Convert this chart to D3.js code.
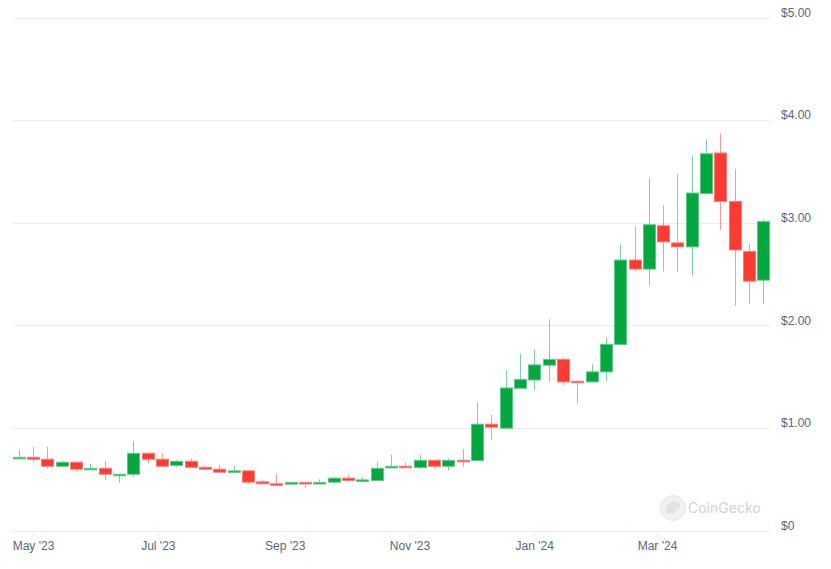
<!DOCTYPE html>
<html>
<head>
<meta charset="utf-8">
<script src="https://cdn.jsdelivr.net/npm/d3@7"></script>
<style>
  body { margin: 0; background: #fff; }
  svg { display: block; font-family: Inter, "Noto Sans", sans-serif; }
  .tick text { fill: #58667e; font-size: 12px; }
</style>
</head>
<body>
<div id="chart"></div>
<script>
// chart size
var svgWidth = 831
var svgHeight = 569

// weekly candles, first week starts 24 Apr 2023
var firstWeek = "2023-04-24"
var weekCount = 53

var opens = [0.700, 0.713, 0.694, 0.626, 0.665, 0.594, 0.606, 0.539, 0.548, 0.752,
  0.694, 0.635, 0.674, 0.616, 0.597, 0.568, 0.581, 0.474, 0.455, 0.452,
  0.468, 0.458, 0.471, 0.510, 0.487, 0.487, 0.610, 0.626, 0.613, 0.684,
  0.626, 0.684, 0.681, 1.036, 0.997, 1.386, 1.467, 1.611, 1.667, 1.454,
  1.448, 1.546, 1.814, 2.636, 2.548, 2.970, 2.803, 2.764, 3.285, 3.679,
  3.207, 2.720, 2.440]
var highs = [0.784, 0.816, 0.816, 0.677, 0.677, 0.648, 0.677, 0.548, 0.871, 0.761,
  0.752, 0.687, 0.703, 0.626, 0.639, 0.629, 0.590, 0.490, 0.552, 0.477,
  0.474, 0.500, 0.519, 0.539, 0.519, 0.668, 0.739, 0.658, 0.739, 0.684,
  0.703, 0.794, 1.245, 1.127, 1.559, 1.725, 1.765, 2.059, 1.683, 1.454,
  1.618, 1.882, 2.787, 2.964, 3.436, 3.170, 3.475, 3.652, 3.810, 3.869,
  3.525, 2.797, 3.030]
var lows = [0.700, 0.671, 0.603, 0.626, 0.574, 0.594, 0.494, 0.468, 0.526, 0.655,
  0.626, 0.616, 0.616, 0.587, 0.568, 0.568, 0.452, 0.455, 0.448, 0.452,
  0.419, 0.458, 0.455, 0.477, 0.487, 0.487, 0.610, 0.613, 0.600, 0.606,
  0.584, 0.623, 0.681, 0.879, 0.997, 1.386, 1.366, 1.454, 1.415, 1.239,
  1.448, 1.454, 1.814, 2.525, 2.387, 2.525, 2.525, 2.485, 3.285, 2.928,
  2.190, 2.210, 2.210]
var closes = [0.713, 0.694, 0.626, 0.665, 0.597, 0.606, 0.548, 0.548, 0.752, 0.694,
  0.626, 0.674, 0.616, 0.597, 0.568, 0.581, 0.471, 0.455, 0.448, 0.468,
  0.458, 0.468, 0.510, 0.487, 0.493, 0.606, 0.626, 0.613, 0.684, 0.626,
  0.684, 0.680, 1.036, 1.007, 1.389, 1.471, 1.614, 1.667, 1.448, 1.444,
  1.546, 1.814, 2.636, 2.548, 2.980, 2.813, 2.764, 3.289, 3.672, 3.207,
  2.734, 2.430, 3.010]

var yTicks = [0, 1, 2, 3, 4, 5]

// build candle rows
var start = d3.utcParse("%Y-%m-%d")(firstWeek)
var data = d3.range(weekCount).map(function (i) {
  return {
    date: d3.utcWeek.offset(start, i),
    open: opens[i], high: highs[i], low: lows[i], close: closes[i]
  };
});

var svg = d3.select("#chart")
  .append("svg")
  .attr("width", svgWidth)
  .attr("height", svgHeight);

// scales
var xScale = d3.scaleUtc()
  .domain([data[0].date, data[data.length - 1].date])
  .range([18.7, 763.4]);

var yScale = d3.scaleLinear()
  .domain([0, 5])
  .range([530.5, 17.5]);

var gridLeft = 13
var gridRight = 770

// horizontal gridlines
svg.append("g")
  .selectAll("line")
  .data(yTicks)
  .enter()
  .append("line")
  .attr("x1", gridLeft)
  .attr("x2", gridRight)
  .attr("y1", d => Math.round(yScale(d)) + 0.5)
  .attr("y2", d => Math.round(yScale(d)) + 0.5)
  .attr("stroke", "#ebedf0")
  .attr("stroke-width", 1);

// right axis labels
var rightAxis = d3.axisRight(yScale)
  .tickValues(yTicks)
  .tickSize(0)
  .tickPadding(0)
  .tickFormat(d => d === 0 ? "$0" : "$" + d.toFixed(2));

svg.append("g")
  .attr("transform", "translate(781, -5)")
  .call(rightAxis)
  .call(g => g.select(".domain").remove());

// bottom axis
var bottomAxis = d3.axisBottom(xScale)
  .ticks(d3.utcMonth.every(2))
  .tickSize(6)
  .tickPadding(4)
  .tickFormat(d3.utcFormat("%b '%y"));

svg.append("g")
  .attr("transform", "translate(0, 531)")
  .call(bottomAxis)
  .call(g => g.select(".domain").remove())
  .call(g => g.selectAll(".tick line").attr("stroke", "#ebedf0"));

// watermark
var mark = svg.append("g").attr("transform", "translate(673, 508)");
mark.append("circle")
  .attr("r", 12.5)
  .attr("fill", "#f1f1f1")
  .attr("stroke", "#e6e6e6");
mark.append("path")
  .attr("d", "M-7,5 C-7,-4 -2,-7 3,-6 C7,-5 8,-2 6,0 C3,1 1,2 1,6 Z")
  .attr("fill", "#e2e2e2");
mark.append("text")
  .attr("x", 15)
  .attr("y", 5)
  .attr("fill", "#d2d2d2")
  .attr("font-size", 14)
  .text("CoinGecko");

// candles
var bodyWidth = 12
var candles = svg.append("g")
  .selectAll("g")
  .data(data)
  .enter()
  .append("g")
  .attr("transform", d => `translate(${Math.round(xScale(d.date)) + 0.5}, 0)`);

candles.append("line")
  .attr("y1", d => yScale(d.high))
  .attr("y2", d => yScale(d.low))
  .attr("stroke", d => d.close >= d.open ? "#7dd3a0" : "#ff9893")
  .attr("stroke-width", 1);

candles.append("rect")
  .attr("x", -bodyWidth / 2)
  .attr("width", bodyWidth)
  .attr("y", d => yScale(Math.max(d.open, d.close)))
  .attr("height", d => Math.max(1.5, Math.abs(yScale(d.open) - yScale(d.close))))
  .attr("fill", d => d.close >= d.open ? "#00a83e" : "#ff3a33")
  .attr("stroke", d => d.close >= d.open ? "#5cc98a" : "#ff7a75")
  .attr("stroke-width", 1);
</script>
</body>
</html>
